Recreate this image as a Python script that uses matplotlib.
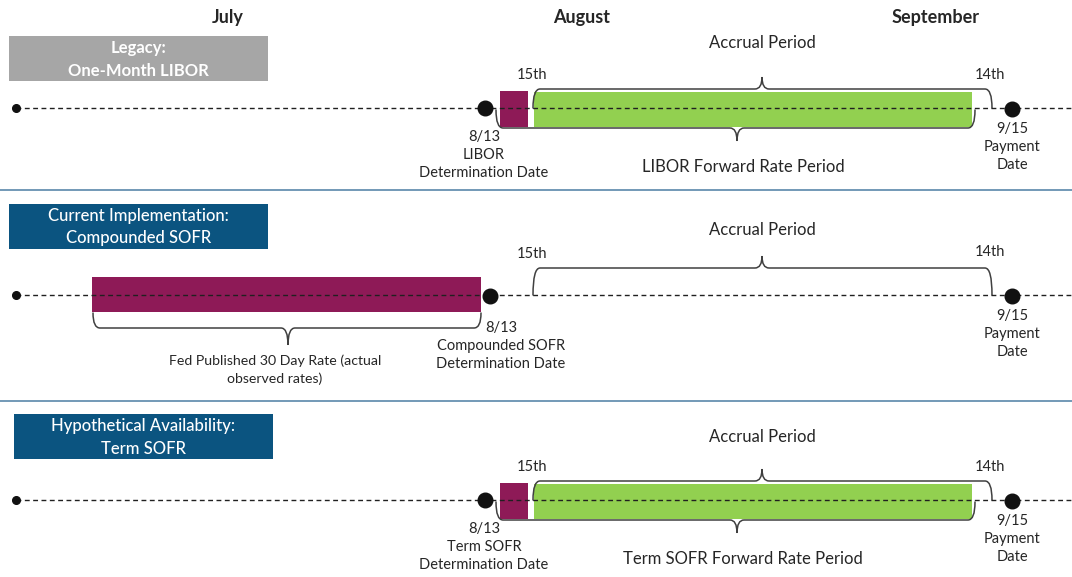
import matplotlib
matplotlib.use('Agg')
import matplotlib.pyplot as plt
from matplotlib.path import Path
from matplotlib.patches import PathPatch, Rectangle

plt.rcParams['font.family'] = ['Lato', 'DejaVu Sans']

#### Datos del esquema ####
months = ['July', 'August', 'September']
row_titles = [['Legacy:', 'One-Month LIBOR'],
              ['Current Implementation:', 'Compounded SOFR'],
              ['Hypothetical Availability:', 'Term SOFR']]
row_title_bold = [True, False, False]
det_labels = [['8/13', 'LIBOR', 'Determination Date'],
              ['8/13', 'Compounded SOFR', 'Determination Date'],
              ['8/13', 'Term SOFR', 'Determination Date']]
pay_labels = ['9/15', 'Payment', 'Date']
accrual_label = 'Accrual Period'
accrual_start = '15th'
accrual_end = '14th'
rate_labels = ['LIBOR Forward Rate Period',
               'Fed Published 30 Day Rate (actual\nobserved rates)',
               'Term SOFR Forward Rate Period']

#### Colores ####
c_purple = '#8e1a57'
c_green = '#92d050'
c_blue = '#0b5480'
c_gray = '#a6a6a6'
c_sep = '#5a87aa'
c_text = '#262626'

#### Layout (pixeles) ####
W, H = 1072, 577
row_y = [108, 295, 500]
box_x = [9, 9, 14]
box_y = [36, 204, 414]
box_w, box_h = 259, 45
box_colors = [c_gray, c_blue, c_blue]
sep_y = [190, 401]

fig = plt.figure(figsize=(W / 100, H / 100), dpi=100)
ax = fig.add_axes([0, 0, 1, 1])
ax.set_xlim(0, W)
ax.set_ylim(H, 0)
ax.axis('off')


def brace(x0, x1, y_end, y_line, y_tip, xm=None, r=7):
    if xm is None:
        xm = (x0 + x1) / 2
    verts = [(x0, y_end), (x0, y_line), (x0 + r, y_line),
             (xm - r, y_line), (xm, y_line), (xm, y_tip),
             (xm, y_line), (xm + r, y_line),
             (x1 - r, y_line), (x1, y_line), (x1, y_end)]
    codes = [Path.MOVETO, Path.CURVE3, Path.CURVE3,
             Path.LINETO, Path.CURVE3, Path.CURVE3,
             Path.CURVE3, Path.CURVE3,
             Path.LINETO, Path.CURVE3, Path.CURVE3]
    ax.add_patch(PathPatch(Path(verts, codes), fill=False, lw=1.1,
                           edgecolor='#404040', zorder=4, capstyle='round'))


fs = 10.5
fs_big = 12

#### Encabezados de meses ####
for name, x in zip(months, [228, 582, 936]):
    ax.text(x, 17, name, ha='center', va='center', fontsize=13,
            fontweight='bold', color=c_text)

#### Separadores ####
for y in sep_y:
    ax.plot([0, W], [y, y], color=c_sep, lw=1.2, zorder=1)

for i, y in enumerate(row_y):
    #### Caja de titulo ####
    ax.add_patch(Rectangle((box_x[i], box_y[i]), box_w, box_h,
                           facecolor=box_colors[i], edgecolor='none', zorder=2))
    cx = box_x[i] + box_w / 2
    for k, line in enumerate(row_titles[i]):
        ax.text(cx, box_y[i] + 12.5 + k * 22, line, ha='center', va='center',
                fontsize=12, color='white',
                fontweight='bold' if row_title_bold[i] else 'medium', zorder=3)

    #### Linea de tiempo ####
    ax.plot([16, W], [y, y], color='#202020', lw=1.0, ls=(0, (3.5, 2.5)), zorder=5)
    ax.plot(16, y, 'o', color='#111111', ms=5.5, zorder=6)
    ax.plot(1012, y + 1, 'o', color='#111111', ms=10.5, zorder=6)
    for k, line in enumerate(pay_labels):
        ax.text(1012, y + 21 + k * 18, line, ha='center', va='center',
                fontsize=fs, color=c_text)

    #### Periodo de devengo ####
    if i == 1:
        top = y - 27
    else:
        top = y - 19
    brace(533, 992, y, top, top - 12, xm=762)
    ax.text(762, y - 65 if i != 2 else y - 63, accrual_label, ha='center',
            va='center', fontsize=fs_big, color=c_text)
    ax.text(532, top - 14, accrual_start, ha='center',
            va='center', fontsize=fs, color=c_text)
    ax.text(990, top - 14 if i != 1 else top - 16, accrual_end, ha='center',
            va='center', fontsize=fs, color=c_text)

    if i == 1:
        #### SOFR compuesto ####
        ax.add_patch(Rectangle((92, y - 18), 389, 35, facecolor=c_purple,
                               edgecolor='none', zorder=3))
        ax.plot(490, y + 1, 'o', color='#111111', ms=10.5, zorder=6)
        brace(93, 481, y + 18, y + 33, y + 50, xm=288)
        for k, line in enumerate(rate_labels[i].split('\n')):
            ax.text(275, y + 66 + k * 18, line, ha='center', va='center',
                    fontsize=10.2, color=c_text)
        for k, line in enumerate(det_labels[i]):
            ax.text(501, y + 33 + k * 18, line, ha='center', va='center',
                    fontsize=fs, color=c_text)
    else:
        #### Tasa forward ####
        ax.add_patch(Rectangle((500, y - 17), 28, 36, facecolor=c_purple,
                               edgecolor='none', zorder=3))
        ax.add_patch(Rectangle((534, y - 16), 438, 35, facecolor=c_green,
                               edgecolor='none', zorder=3))
        ax.plot(485, y, 'o', color='#111111', ms=10.5, zorder=6)
        brace(496, 975, y + 2, y + 20, y + 33, xm=737)
        ax.text(743, y + 59, rate_labels[i], ha='center', va='center',
                fontsize=fs_big, color=c_text)
        for k, line in enumerate(det_labels[i]):
            ax.text(484, y + 29 + k * 18, line, ha='center', va='center',
                    fontsize=fs, color=c_text)

fig.savefig('out.png', dpi=100)
